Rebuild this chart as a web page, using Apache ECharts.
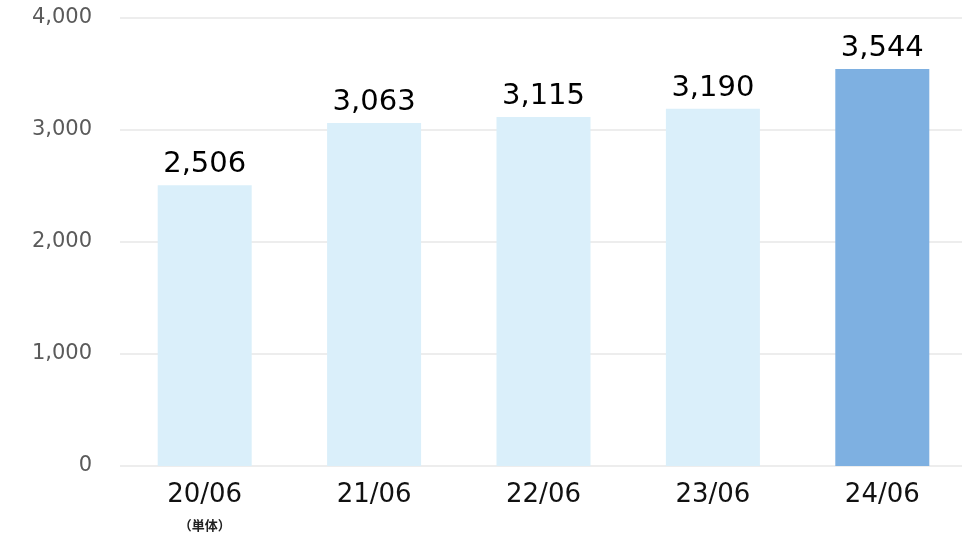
<!DOCTYPE html>
<html><head><meta charset="utf-8">
<script src="https://cdn.jsdelivr.net/npm/echarts@6/dist/echarts.min.js"></script>
<style>html,body{margin:0;padding:0;background:#fff}#c{width:962px;height:539px}</style>
</head><body><div id="c"></div>
<script>
const categories = ['20/06', '21/06', '22/06', '23/06', '24/06'];
const subLabels = ['（単体）', '', '', '', ''];
const values = [2506, 3063, 3115, 3190, 3544];
const highlightIndex = 4;
const yTicks = [0, 1000, 2000, 3000, 4000];

const chart = echarts.init(document.getElementById('c'), null, {renderer: 'canvas'});
chart.setOption({
  animation: false,
  backgroundColor: '#ffffff',
  grid: {left: 120, top: 18, width: 847, height: 448, containLabel: false, outerBoundsMode: 'none'},
  xAxis: {
    type: 'category',
    data: categories,
    axisLine: {show: false},
    axisTick: {show: false},
    axisLabel: {
      interval: 0,
      margin: 14,
      formatter: (v, i) => subLabels[i] ? v + '\n{s|' + subLabels[i] + '}' : v,
      color: '#111',
      fontSize: 26,
      fontFamily: 'DejaVu Sans',
      lineHeight: 30,
      rich: {s: {fontSize: 13, fontWeight: 'bold', fontFamily: 'Noto Sans CJK JP', color: '#222', lineHeight: 30, padding: [0, 0, 0, 0]}}
    }
  },
  yAxis: {
    type: 'value',
    min: yTicks[0],
    max: yTicks[yTicks.length - 1],
    interval: 1000,
    axisLine: {show: false},
    axisTick: {show: false},
    splitLine: {lineStyle: {color: '#ededed', width: 2}},
    axisLabel: {
      margin: 28,
      color: '#5a5a5a',
      fontSize: 21,
      fontFamily: 'DejaVu Sans',
      formatter: v => v.toLocaleString('en-US')
    }
  },
  series: [{
    type: 'bar',
    barWidth: 94,
    data: values.map((v, i) => ({
      value: v,
      itemStyle: {color: i === highlightIndex ? '#7eb0e1' : '#daeffa'}
    })),
    label: {
      show: true,
      position: 'top',
      distance: 6,
      color: '#000',
      fontSize: 29,
      fontFamily: 'DejaVu Sans',
      formatter: p => p.value.toLocaleString('en-US')
    }
  }]
});
</script></body></html>
